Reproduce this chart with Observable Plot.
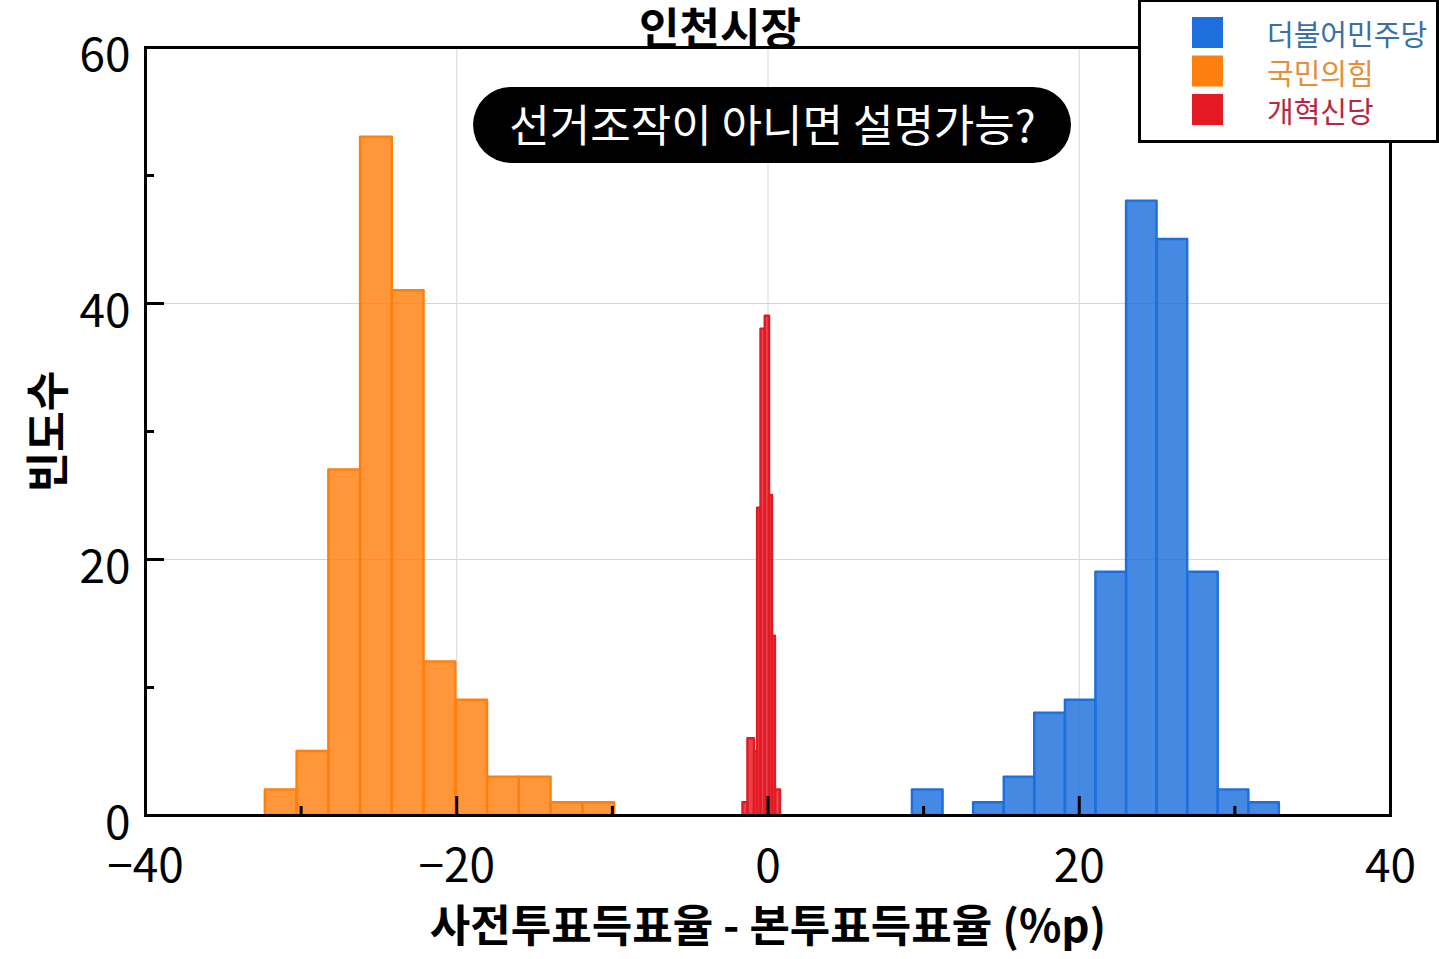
<!DOCTYPE html>
<html>
<head>
<meta charset="utf-8">
<script src="https://cdn.jsdelivr.net/npm/d3@7"></script>
<script src="https://cdn.jsdelivr.net/npm/@observablehq/plot@0.6"></script>
<style>
  html, body { margin: 0; padding: 0; background: #fff; }
  #wrap { position: relative; width: 1439px; height: 959px; overflow: hidden; }
  #legend { position: absolute; left: 0; top: 0; pointer-events: none; }
</style>
</head>
<body>
<div id="wrap"></div>
<script>
// ---------- data ----------
const title = "인천시장";
const xLabel = "사전투표득표율 - 본투표득표율 (%p)";
const yLabel = "빈도수";
const parties = ["더불어민주당", "국민의힘", "개혁신당"];
const partyColors = ["#1c6fdc", "#ff7f0e", "#e31a24"];
const legendTextColors = ["#3b6fa8", "#e3903a", "#b5283f"];

const xDomain = [-40, 40];
const yDomain = [0, 60];
const xMajorTicks = [-40, -20, 0, 20, 40];
const xMinorTicks = [-30, -10, 10, 30];
const yMajorTicks = [0, 20, 40, 60];
const yMinorTicks = [10, 30, 50];
const xGridTicks = [-20, 0, 20];
const yGridTicks = [20, 40];

// 더불어민주당 histogram
const minjuEdges  = [9.28, 11.25, 13.21, 15.18, 17.14, 19.11, 21.07, 23.04, 25.00, 26.97, 28.93, 30.90, 32.86];
const minjuCounts = [2, 0, 1, 3, 8, 9, 19, 48, 45, 19, 2, 1];
// 국민의힘 histogram
const ppEdges  = [-32.30, -30.26, -28.22, -26.18, -24.14, -22.10, -20.06, -18.02, -15.98, -13.94, -11.90, -9.86];
const ppCounts = [2, 5, 27, 53, 41, 12, 9, 3, 3, 1, 1];
// 개혁신당 histogram
const reformEdges  = [-1.61, -1.29, -0.87, -0.67, -0.45, -0.18, 0.10, 0.29, 0.48, 0.80];
const reformCounts = [1, 6, 5, 24, 38, 39, 25, 14, 2];

// annotation
const annotationText = ["선거조작이 아니면 설명가능?"];
const annotationPos = [{x: 0.29, y: 53.75}];
const annotationBox = [{x1: -18.92, x2: 19.5, y1: 50.94, y2: 56.88}];

// ---------- build ----------
function toBins(party, edges, counts) {
  return counts.map((c, i) => ({party, x1: edges[i], x2: edges[i + 1], count: c})).filter(d => d.count > 0);
}
const bins = [
  ...toBins(parties[1], ppEdges, ppCounts),
  ...toBins(parties[2], reformEdges, reformCounts),
  ...toBins(parties[0], minjuEdges, minjuCounts)
];

const W = 1439, H = 959;
const mL = 145, mR = 49, mT = 47, mB = 144;
const font = "'Noto Sans CJK KR', 'Noto Sans', sans-serif";
const titleDx = W / 2 - (mL + (W - mL - mR) / 2);

const chart = Plot.plot({
  width: W,
  height: H,
  marginLeft: mL,
  marginRight: mR,
  marginTop: mT,
  marginBottom: mB,
  style: {fontFamily: font, background: "#fff", overflow: "visible"},
  x: {domain: xDomain},
  y: {domain: yDomain},
  color: {domain: parties, range: partyColors},
  marks: [
    Plot.gridX({ticks: xGridTicks, stroke: "#d6d6d6", strokeOpacity: 1, strokeWidth: 1}),
    Plot.gridY({ticks: yGridTicks, stroke: "#d6d6d6", strokeOpacity: 1, strokeWidth: 1}),
    Plot.rect(bins, {
      x1: "x1", x2: "x2", y1: 0, y2: "count",
      fill: "party", fillOpacity: 0.82,
      stroke: "party", strokeWidth: 2.4, strokeLinejoin: "round"
    }),
    Plot.frame({stroke: "#000", strokeWidth: 3}),
    // inward ticks
    Plot.axisX({ticks: xMajorTicks, tickSize: 19, dy: -19, tickFormat: () => "", strokeWidth: 3}),
    Plot.axisX({ticks: xMinorTicks, tickSize: 9, dy: -9, tickFormat: () => "", strokeWidth: 3}),
    Plot.axisY({ticks: yMajorTicks, tickSize: 19, dx: 19, tickFormat: () => "", strokeWidth: 3}),
    Plot.axisY({ticks: yMinorTicks, tickSize: 9, dx: 9, tickFormat: () => "", strokeWidth: 3}),
    // tick labels
    Plot.axisX({ticks: xMajorTicks, tickSize: 0, tickPadding: 34, fontSize: 46, fill: "#000", label: null}),
    Plot.axisY({ticks: yMajorTicks, tickSize: 0, tickPadding: 15, fontSize: 46, fill: "#000", dy: 9, label: null}),
    // annotation pill
    Plot.rect(annotationBox, {x1: "x1", x2: "x2", y1: "y1", y2: "y2", fill: "#000", rx: 38}),
    Plot.text(annotationText, {
      x: (d, i) => annotationPos[i].x, y: (d, i) => annotationPos[i].y,
      text: d => d, fill: "#fff", fontSize: 44
    }),
    // title & axis labels
    Plot.text([title], {text: d => d, frameAnchor: "top", lineAnchor: "middle", textAnchor: "middle",
      dx: titleDx, dy: -17, fontSize: 44, fontWeight: "bold", fill: "#000"}),
    Plot.text([xLabel], {text: d => d, frameAnchor: "bottom", lineAnchor: "middle", textAnchor: "middle",
      dy: 112, fontSize: 44, fontWeight: "bold", fill: "#000"}),
    Plot.text([yLabel], {text: d => d, frameAnchor: "left", lineAnchor: "middle", textAnchor: "middle",
      dx: -96, rotate: -90, fontSize: 44, fontWeight: "bold", fill: "#000"})
  ]
});

const wrap = document.getElementById("wrap");
wrap.appendChild(chart);

// ---------- legend ----------
const leg = d3.select(wrap).append("svg")
  .attr("id", "legend").attr("width", W).attr("height", H);
leg.append("rect")
  .attr("x", 1139.5).attr("y", 0.5).attr("width", 298).attr("height", 141)
  .attr("fill", "#fff").attr("stroke", "#000").attr("stroke-width", 3);
const items = leg.selectAll("g.item").data(parties).join("g").attr("class", "item");
items.append("rect")
  .attr("x", 1192).attr("y", (d, i) => 17 + i * 38.5)
  .attr("width", 31).attr("height", 31)
  .attr("fill", (d, i) => partyColors[i]);
items.append("text")
  .attr("x", 1267).attr("y", (d, i) => 46 + i * 38.5)
  .attr("fill", (d, i) => legendTextColors[i])
  .style("font-family", font).style("font-size", "29px")
  .text(d => d);
</script>
</body>
</html>
